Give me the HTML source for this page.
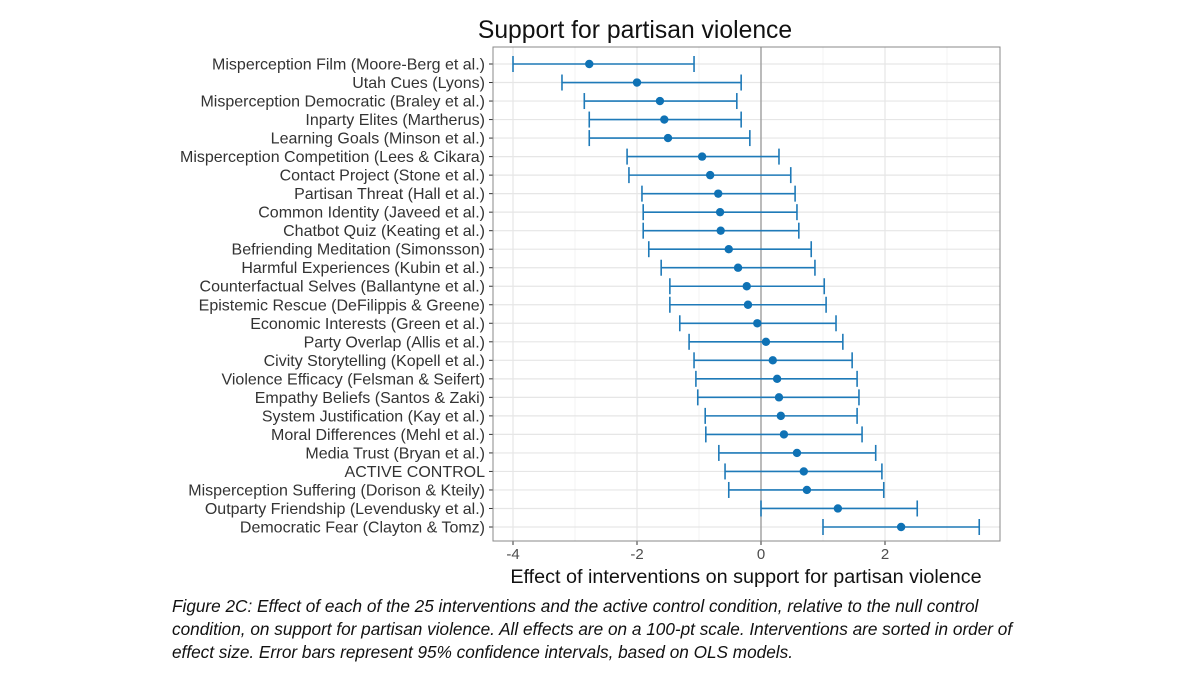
<!DOCTYPE html>
<html><head><meta charset="utf-8"><style>
body{margin:0;background:#fff;width:1200px;height:675px;overflow:hidden;font-family:"Liberation Sans",Arial,sans-serif}
#cap{position:absolute;left:172px;top:595px;width:1020px;white-space:nowrap;font-style:italic;font-size:17.2px;line-height:23px;color:#111}
</style></head><body>
<svg id="chart" width="1200" height="600" style="position:absolute;left:0;top:0"></svg>
<div id="cap">Figure 2C: Effect of each of the 25 interventions and the active control condition, relative to the null control<br>condition, on support for partisan violence. All effects are on a 100-pt scale. Interventions are sorted in order of<br>effect size. Error bars represent 95% confidence intervals, based on OLS models.</div>
<script>
const categories=["Misperception Film (Moore-Berg et al.)","Utah Cues (Lyons)","Misperception Democratic (Braley et al.)","Inparty Elites (Martherus)","Learning Goals (Minson et al.)","Misperception Competition (Lees & Cikara)","Contact Project (Stone et al.)","Partisan Threat (Hall et al.)","Common Identity (Javeed et al.)","Chatbot Quiz (Keating et al.)","Befriending Meditation (Simonsson)","Harmful Experiences (Kubin et al.)","Counterfactual Selves (Ballantyne et al.)","Epistemic Rescue (DeFilippis & Greene)","Economic Interests (Green et al.)","Party Overlap (Allis et al.)","Civity Storytelling (Kopell et al.)","Violence Efficacy (Felsman & Seifert)","Empathy Beliefs (Santos & Zaki)","System Justification (Kay et al.)","Moral Differences (Mehl et al.)","Media Trust (Bryan et al.)","ACTIVE CONTROL","Misperception Suffering (Dorison & Kteily)","Outparty Friendship (Levendusky et al.)","Democratic Fear (Clayton & Tomz)"];
const estimates=[-2.77,-2.0,-1.63,-1.56,-1.5,-0.95,-0.82,-0.69,-0.66,-0.65,-0.52,-0.37,-0.23,-0.21,-0.06,0.08,0.19,0.26,0.29,0.32,0.37,0.58,0.69,0.74,1.24,2.26];
const lower=[-4.0,-3.21,-2.85,-2.77,-2.77,-2.16,-2.13,-1.92,-1.9,-1.9,-1.81,-1.61,-1.47,-1.47,-1.31,-1.16,-1.08,-1.05,-1.02,-0.9,-0.89,-0.68,-0.58,-0.52,0.0,1.0];
const upper=[-1.08,-0.32,-0.39,-0.32,-0.18,0.29,0.48,0.55,0.58,0.61,0.81,0.87,1.02,1.05,1.21,1.32,1.47,1.55,1.58,1.55,1.63,1.85,1.95,1.98,2.52,3.52];
const majorTicks=[-4,-2,0,2];
const minorTicks=[-3,-1,1,3];
const NS="http://www.w3.org/2000/svg",svg=document.getElementById('chart');
const L=493,R=1000,T=47,B=541;
const x=v=>761+v*62;
const y=i=>64+i*(527-64)/(categories.length-1);
function el(t,a,p){const e=document.createElementNS(NS,t);for(const k in a)e.setAttribute(k,a[k]);(p||svg).appendChild(e);return e;}
const bg=el('rect',{x:L,y:T,width:R-L,height:B-T,fill:'#fff'});


minorTicks.forEach(v=>{const g=el('line',{x1:x(v),x2:x(v),y1:T,y2:B,stroke:'#f0f0f0','stroke-width':0.8});

});
majorTicks.forEach(v=>{const g=el('line',{x1:x(v),x2:x(v),y1:T,y2:B,stroke:'#e6e6e6','stroke-width':1.2});


const tk=el('line',{x1:x(v),x2:x(v),y1:B,y2:B+4,stroke:'#333'});


const t=el('text',{x:x(v),y:B+18,'text-anchor':'middle','font-size':15,fill:'#4d4d4d'});t.textContent=v<0?'-'+Math.abs(v):v;

});
categories.forEach((c,i)=>{const g=el('line',{x1:L,x2:R,y1:y(i),y2:y(i),stroke:'#e6e6e6','stroke-width':1.2});

});
const zl=el('line',{x1:x(0),x2:x(0),y1:T,y2:B,stroke:'#999','stroke-width':1.3});


categories.forEach((c,i)=>{const yy=y(i);
const t=el('text',{x:485,y:yy+5.5,'text-anchor':'end','font-size':16,fill:'#333'});t.textContent=c;


const tk=el('line',{x1:L-4,x2:L,y1:yy,y2:yy,stroke:'#333'});


const g=el('g',{stroke:'#1f7ab8','stroke-width':1.6,fill:'none'});


el('line',{x1:x(lower[i]),x2:x(upper[i]),y1:yy,y2:yy},g);
el('line',{x1:x(lower[i]),x2:x(lower[i]),y1:yy-8,y2:yy+8},g);
el('line',{x1:x(upper[i]),x2:x(upper[i]),y1:yy-8,y2:yy+8},g);
const p=el('circle',{cx:x(estimates[i]),cy:yy,r:4.2,fill:'#0f72b5'});

});
const fr=el('rect',{x:L,y:T,width:R-L,height:B-T,fill:'none',stroke:'#888','stroke-width':1});


const ti=el('text',{x:635,y:38,'text-anchor':'middle','font-size':24.7,fill:'#111'});ti.textContent='Support for partisan violence';


const xt=el('text',{x:746,y:583,'text-anchor':'middle','font-size':19.8,fill:'#111'});xt.textContent='Effect of interventions on support for partisan violence';


</script>
</body></html>
